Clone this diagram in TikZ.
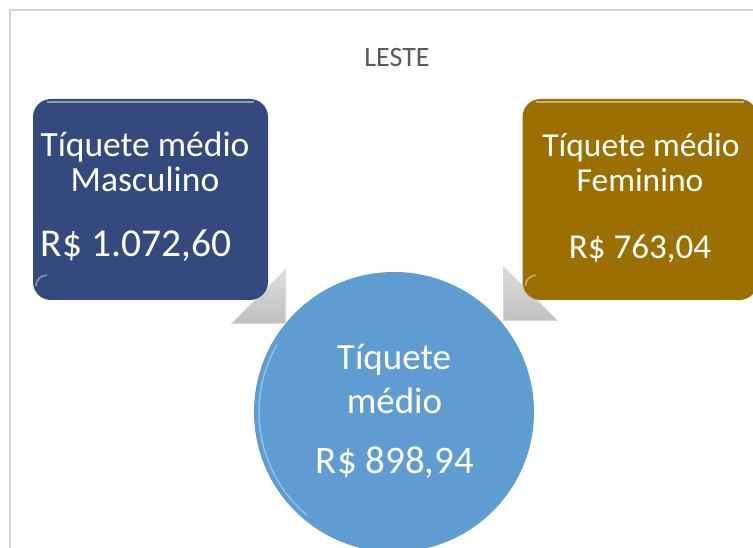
\documentclass[tikz,border=0pt]{standalone}
\usepackage{fontspec}
\setmainfont{Carlito}
\usetikzlibrary{shapes.arrows}
\definecolor{mblue}{HTML}{344A7E}
\definecolor{fgold}{HTML}{9B7000}
\definecolor{cblue}{HTML}{5F9CD2}
\definecolor{framegray}{HTML}{D4D4D4}
\definecolor{titlegray}{HTML}{595959}
\tikzset{
  box/.style={rectangle, rounded corners=18pt, minimum width=235pt, minimum height=201pt, inner sep=0pt},
  boxhl/.style={draw=white, draw opacity=0.45, line width=1.5pt},
  txt/.style={text=white, inner sep=0pt, anchor=base},
  blockarrow/.style={single arrow, single arrow tip angle=90, single arrow head extend=17pt,
     minimum width=76pt, minimum height=110pt, inner sep=0pt, draw=gray!30, line width=1pt,
     top color=gray!15, bottom color=gray!50},
}
\newcommand{\fs}[1]{\fontsize{#1}{#1}\selectfont}
\begin{document}
\begin{tikzpicture}[x=1pt,y=-1pt]
\useasboundingbox (0,0) rectangle (753,548);
\clip (0,0) rectangle (753,548);
\fill[white] (0,0) rectangle (753,548);
% frame
\draw[framegray, line width=1.5pt] (10,560) -- (10,10) -- (770,10);
\node[text=titlegray, inner sep=0pt, anchor=base, font=\fs{28}] (title) at (397,67) {LESTE};
% circle
\node[circle, fill=cblue, minimum size=280pt, inner sep=0pt] (c) at (394,412) {};
\draw[white, opacity=0.35, line width=1.5pt] (c) ++(150:135pt) arc (150:230:135pt);
% arrows (behind boxes)
\node[blockarrow, rotate=-45, anchor=tip] (a1) at (286,324) {};
\node[blockarrow, rotate=-135, anchor=tip] (a2) at (503,321) {};
% boxes
\node[box, fill=mblue] (m) at (150.5,199.5) {};
\draw[boxhl] ([xshift=14pt,yshift=-3pt]m.north west) -- ([xshift=-14pt,yshift=-3pt]m.north east);
\draw[boxhl] ([xshift=3pt,yshift=14pt]m.south west) arc (180:90:11pt);
\node[box, fill=fgold] (f) at (640,199.5) {};
\draw[boxhl] ([xshift=14pt,yshift=-3pt]f.north west) -- ([xshift=-14pt,yshift=-3pt]f.north east);
\draw[boxhl] ([xshift=3pt,yshift=14pt]f.south west) arc (180:90:11pt);
% texts
\node[txt, font=\fs{35.5}] (m1) at (145,156.7) {Tíquete médio};
\node[txt, font=\fs{35.5}] (m2) at (145,191.7) {Masculino};
\node[txt, font=\fs{39.5}] (m3) at (136,256.7) {R\$ 1.072,60};
\node[txt, font=\fs{33.5}] (f1) at (641,157) {Tíquete médio};
\node[txt, font=\fs{33.5}] (f2) at (640,191.7) {Feminino};
\node[txt, font=\fs{35}] (f3) at (640,259) {R\$ 763,04};
\node[txt, font=\fs{37}] (c1) at (394,370) {Tíquete};
\node[txt, font=\fs{37}] (c2) at (394.5,413) {médio};
\node[txt, font=\fs{39}] (c3) at (395,473) {R\$ 898,94};
\end{tikzpicture}
\end{document}
